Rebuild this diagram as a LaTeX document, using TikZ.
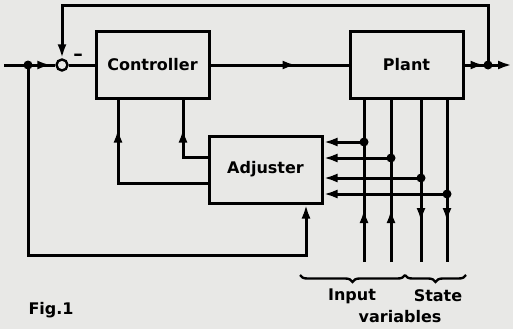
\documentclass[tikz,border=0pt]{standalone}
\usepackage{fontspec}
\setmainfont{DejaVu Sans}
\usetikzlibrary{arrows.meta, positioning, calc, decorations.markings, decorations.pathreplacing}
\definecolor{paper}{RGB}{232,232,230}

\begin{document}
\begin{tikzpicture}[x=1pt, y=-1pt, font=\fontsize{16}{19}\selectfont\bfseries,
        >={Latex[length=14pt, width=9pt]},
        block/.style={rectangle, draw, line width=3pt, minimum width=113pt, minimum height=66pt},
        dot/.style={circle, fill, inner sep=0pt, minimum size=9pt},
        sumpoint/.style={circle, draw, line width=2.4pt, fill=paper, inner sep=0pt, minimum size=11pt},
        line/.style={draw, line width=3pt},
        midarrow/.style={postaction={decorate}, decoration={markings, mark=at position #1 with {\arrow{>}}}}]

        \fill[paper] (0,0) rectangle (513,329);
        \useasboundingbox (0,0) rectangle (513,329);

        \node [block] (ctrl) at (152.5,65) {Controller};
        \node [block] (plant) at (406.5,65) {Plant};
        \node [block, minimum height=67pt] (adj) at (265.5,169.5) {Adjuster};

        \coordinate (in) at (4,65);
        \coordinate (out) at (512,65);
        \node [dot] (split) at (28,65) {};
        \node [sumpoint] (sum) at (62,65) {};
        \node [dot] (outdot) at (488,65) {};
        \node [font=\fontsize{19}{19}\selectfont\bfseries] (minus) at (78,57) {\textendash};

        % Main loop
        \path [line, midarrow=-4pt] (in) -- (sum.west);
        \path [line] (sum.east) -- (ctrl.west);
        \path [line, midarrow=86pt] (ctrl.east) -- (plant.west);
        \path [line, midarrow=20pt] (plant.east) -- (outdot.center);
        \path [line, ->] (outdot.center) -- (out);
        \path [line, ->] (outdot.center) -- ++(0,-59) -| (sum.north);

        % Adjuster to controller
        \path [line, midarrow=-29pt] ([yshift=-13.5pt]adj.west) -| ([xshift=-34.5pt]ctrl.south);
        \path [line, midarrow=-29pt] ([yshift=12.5pt]adj.west) -| ([xshift=30.5pt]ctrl.south);
        \path [line, ->] (split.center) -- ++(0,190) -| ([xshift=40.5pt]adj.south);

        % Input and state variables
        \coordinate (var1) at (364,262);
        \coordinate (var2) at (391,262);
        \coordinate (var3) at (421,262);
        \coordinate (var4) at (447,262);
        \path [line, midarrow=53pt] (var1) -- (plant.south -| var1);
        \path [line, midarrow=53pt] (var2) -- (plant.south -| var2);
        \path [line, midarrow=-40pt] (plant.south -| var3) -- (var3);
        \path [line, midarrow=-40pt] (plant.south -| var4) -- (var4);

        \foreach \y [count=\i] in {142, 158, 178, 194} {
            \node [dot] (tap\i) at (var\i |- 0,\y) {};
            \path [line, ->] (tap\i.center) -- (adj.east |- tap\i);
        }

        % Braces and labels
        \draw [line width=2.4pt, decorate, decoration={brace, mirror, amplitude=7pt}] (300,275) -- (405,275);
        \draw [line width=2.4pt, decorate, decoration={brace, mirror, amplitude=7pt}] (405,275) -- (466,275);
        \node (inlabel) at (352,296) {Input};
        \node (statelabel) at (438,296) {State};
        \node (varlabel) at (400,317) {variables};
        \node [anchor=west] (figlabel) at (25,310) {Fig.1};

    \end{tikzpicture}
\end{document}
